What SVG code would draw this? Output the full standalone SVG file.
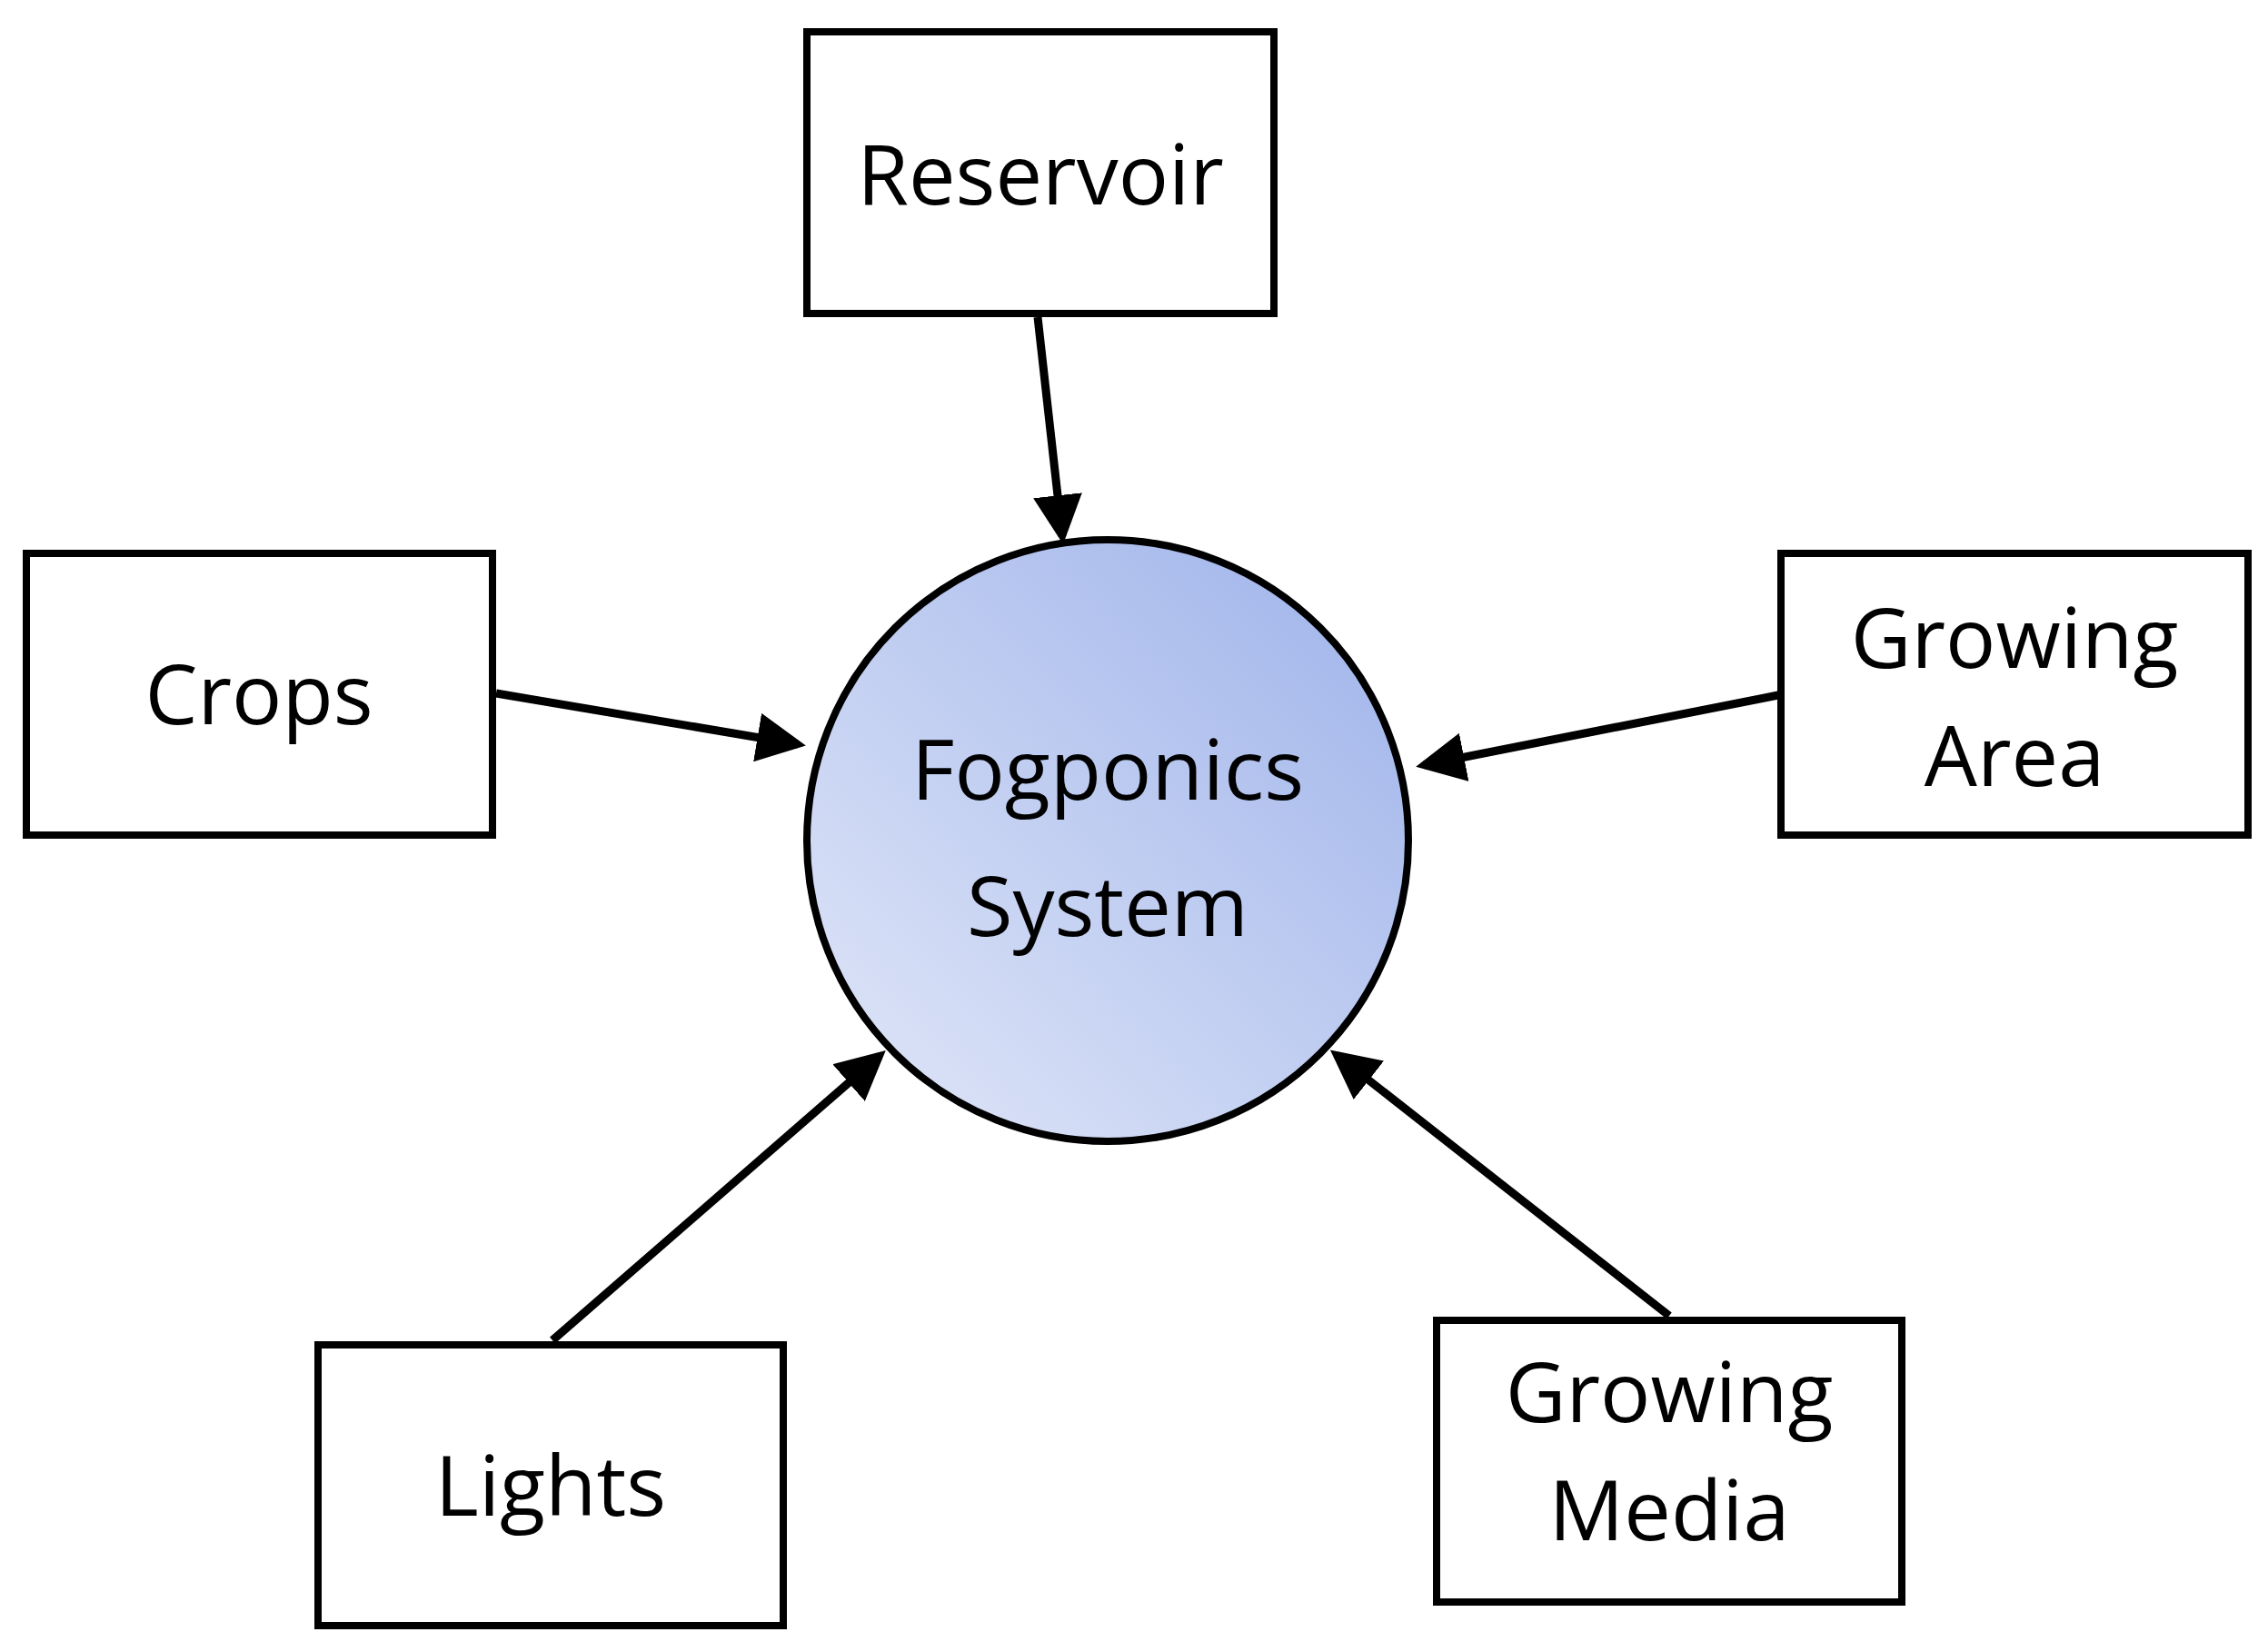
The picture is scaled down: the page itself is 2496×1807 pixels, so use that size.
<svg xmlns="http://www.w3.org/2000/svg" width="2496" height="1807" viewBox="0 0 2496 1807">
<style>
.box{fill:#fff;stroke:#000;stroke-width:8}
.t{font-family:"Open Sans","Liberation Sans",sans-serif;font-size:92px;text-anchor:middle;fill:#000}
.c{stroke:#000;stroke-width:9;fill:none;marker-end:url(#ah)}
</style>
<defs>
<marker id="ah" markerWidth="6" markerHeight="6" refX="5" refY="3" orient="auto" markerUnits="strokeWidth"><path d="M0,0 L6,3 L0,6 z" fill="#000"/></marker>
<linearGradient id="g" x1="0" y1="1" x2="1" y2="0"><stop offset="0" stop-color="#e2e8f8"/><stop offset="1" stop-color="#9db2ea"/></linearGradient>
</defs>
<rect width="2496" height="1807" fill="#fff"/>
<g id="center"><circle cx="1219" cy="925" r="331" fill="url(#g)" stroke="#000" stroke-width="8"/>
<text class="t" x="1219" y="880" font-size="108">Fogponics</text><text class="t" x="1219" y="1030" font-size="108">System</text></g>
<g id="reservoir"><rect class="box" x="888" y="35" width="514" height="310"/><text class="t" x="1145" y="225">Reservoir</text></g>
<g id="crops"><rect class="box" x="29" y="609" width="513" height="310"/><text class="t" x="285" y="797">Crops</text></g>
<g id="growingarea"><rect class="box" x="1960" y="609" width="514" height="310"/><text class="t" x="2217" y="735">Growing</text><text class="t" x="2217" y="865">Area</text></g>
<g id="lights"><rect class="box" x="350" y="1480" width="512" height="309"/><text class="t" x="606" y="1668">Lights</text></g>
<g id="growingmedia"><rect class="box" x="1581" y="1453" width="512" height="310"/><text class="t" x="1837" y="1565">Growing</text><text class="t" x="1837" y="1695">Media</text></g>
<g id="connectors">
<line class="c" x1="1142" y1="349" x2="1169" y2="590"/>
<line class="c" x1="546" y1="763" x2="878" y2="819"/>
<line class="c" x1="1957" y1="765" x2="1567" y2="842"/>
<line class="c" x1="608" y1="1475" x2="968" y2="1162"/>
<line class="c" x1="1837" y1="1448" x2="1471" y2="1161"/>
</g>
</svg>
